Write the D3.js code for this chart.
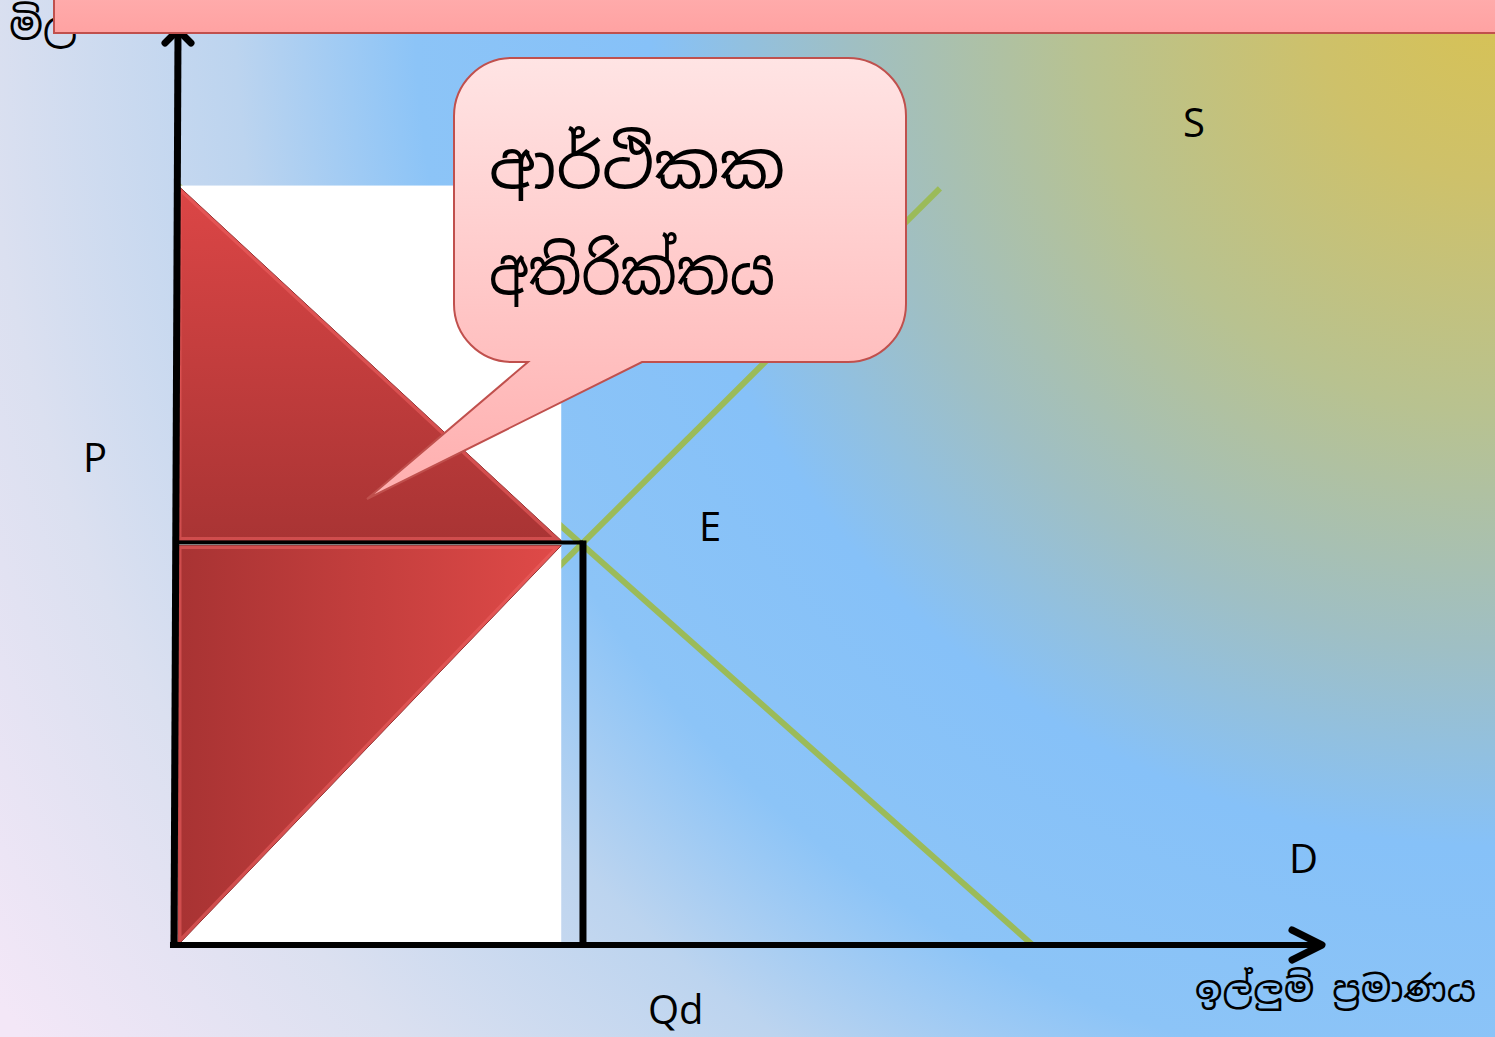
<!DOCTYPE html>
<html lang="si">
<head>
    <meta charset="UTF-8">
    <title>ආර්ථිකක අතිරික්තය</title>
    <style>
        body { margin: 0; overflow: hidden; }
        svg { display: block; }
        .lbl { font-family: 'Open Sans', 'Liberation Sans', sans-serif; font-size: 40px; fill: #000; }
        .si { font-family: 'Noto Sans Sinhala', 'Iskoola Pota', 'Noto Serif Sinhala', 'Noto Sans', sans-serif; fill: #000; }
    </style>
</head>
<body>
    <svg id="chart" width="1495" height="1037"></svg>

    <script src="https://cdnjs.cloudflare.com/ajax/libs/d3/7.8.5/d3.min.js"></script>
    <script>
        // ---- data (quantity / price units) ----
        var demandLine = [[0, 83], [74.7, 0]];      // D
        var supplyLine = [[0, 0], [66.6, 82.7]];    // S
        var equilibrium = { q: 35.4, p: 44 };       // E
        var shadedQ = 33.5;                          // right edge of the white panel / triangles
        var panelTop = 83;
        var axisMax = { q: 100, p: 100 };

        var axisTitles = { y: 'මිල', x: 'ඉල්ලුම් ප්‍රමාණය' };
        var calloutLines = ['ආර්ථිකක', 'අතිරික්තය'];
        var calloutWidths = [296, 286];

        var svg = d3.select('#chart'),
            width = +svg.attr('width'),
            height = +svg.attr('height');

        var x = d3.scaleLinear().domain([0, 100]).range([178, 1322]);
        var y = d3.scaleLinear().domain([0, 100]).range([945, 30]);

        var defs = svg.append('defs');

        // background: gold in the top-right corner, blue ring, lavender bottom-left
        var bg = defs.append('radialGradient')
            .attr('id', 'bg')
            .attr('gradientUnits', 'userSpaceOnUse')
            .attr('cx', 1495).attr('cy', 0).attr('r', 1800);
        [[0, '#d7c254'], [0.1, '#cec16a'], [0.23, '#b8c290'], [0.36, '#9fbfc4'],
         [0.47, '#86c1f8'], [0.6, '#8cc4f7'], [0.7, '#bcd4ef'], [0.84, '#dbe0f0'],
         [1, '#f3e7f7']].forEach(function (s) {
            bg.append('stop').attr('offset', s[0]).attr('stop-color', s[1]);
        });

        var gUp = defs.append('linearGradient').attr('id', 'redUp')
            .attr('x1', 0).attr('y1', 0).attr('x2', 0).attr('y2', 1);
        gUp.append('stop').attr('offset', 0).attr('stop-color', '#dc4646');
        gUp.append('stop').attr('offset', 1).attr('stop-color', '#a93434');

        var gLow = defs.append('linearGradient').attr('id', 'redLow')
            .attr('x1', 0).attr('y1', 0).attr('x2', 1).attr('y2', 0);
        gLow.append('stop').attr('offset', 0).attr('stop-color', '#a83333');
        gLow.append('stop').attr('offset', 1).attr('stop-color', '#e04a48');

        var gCall = defs.append('linearGradient').attr('id', 'callout')
            .attr('x1', 0).attr('y1', 0).attr('x2', 0).attr('y2', 1);
        gCall.append('stop').attr('offset', 0).attr('stop-color', '#ffe4e4');
        gCall.append('stop').attr('offset', 1).attr('stop-color', '#ffaeae');

        var gBan = defs.append('linearGradient').attr('id', 'banner')
            .attr('x1', 0).attr('y1', 0).attr('x2', 0).attr('y2', 1);
        gBan.append('stop').attr('offset', 0).attr('stop-color', '#ffadad');
        gBan.append('stop').attr('offset', 1).attr('stop-color', '#ffa2a2');

        svg.append('rect')
            .attr('width', width).attr('height', height)
            .attr('fill', 'url(#bg)');

        var line = d3.line()
            .x(function (d) { return x(d[0]); })
            .y(function (d) { return y(d[1]); });

        // supply & demand (the white panel covers their left part)
        svg.selectAll('.curve')
            .data([supplyLine, demandLine])
            .enter()
            .append('path')
            .attr('class', 'curve')
            .attr('d', line)
            .attr('stroke', '#9bbb59')
            .attr('stroke-width', 6)
            .attr('fill', 'none');

        svg.append('rect')
            .attr('x', x(0)).attr('y', y(panelTop))
            .attr('width', x(shadedQ) - x(0))
            .attr('height', y(0) - y(panelTop))
            .attr('fill', '#fff');

        // triangles
        var tri = [
            { id: 'up', fill: 'url(#redUp)', pts: [[0, panelTop], [0, equilibrium.p + 0.2], [shadedQ, equilibrium.p + 0.2]] },
            { id: 'low', fill: 'url(#redLow)', pts: [[0, equilibrium.p - 0.35], [shadedQ, equilibrium.p - 0.35], [0, 0]] }
        ];
        tri.forEach(function (t) {
            var d = line(t.pts) + 'Z';
            defs.append('clipPath').attr('id', 'clip-' + t.id).append('path').attr('d', d);
            svg.append('path').attr('d', d).attr('fill', t.fill)
                .attr('stroke', '#7a2424').attr('stroke-width', 1);
            svg.append('path').attr('d', d).attr('fill', 'none')
                .attr('clip-path', 'url(#clip-' + t.id + ')')
                .attr('stroke', '#ef6262').attr('stroke-opacity', 0.55)
                .attr('stroke-width', 7);
        });

        // price and quantity guide lines
        svg.append('path')
            .attr('d', line([[0, equilibrium.p], [equilibrium.q, equilibrium.p]]))
            .attr('stroke', '#000').attr('stroke-width', 4)
            .attr('fill', 'none');
        svg.append('path')
            .attr('d', line([[equilibrium.q, equilibrium.p + 0.2], [equilibrium.q, 0]]))
            .attr('stroke', '#000').attr('stroke-width', 7)
            .attr('fill', 'none');

        // axes
        svg.append('path')
            .attr('d', line([[-0.7, 0], [axisMax.q, 0]]))
            .attr('stroke', '#000').attr('stroke-width', 6).attr('fill', 'none');
        svg.append('path')
            .attr('d', line([[-0.35, 0], [0, axisMax.p]]))
            .attr('stroke', '#000').attr('stroke-width', 7).attr('fill', 'none');
        // arrow heads
        svg.append('path')
            .attr('d', 'M' + (x(axisMax.q) - 30) + ',' + (y(0) - 15) + 'L' + x(axisMax.q) + ',' + y(0) +
                'L' + (x(axisMax.q) - 30) + ',' + (y(0) + 15))
            .attr('stroke', '#000').attr('stroke-width', 7).attr('fill', 'none')
            .attr('stroke-linecap', 'round').attr('stroke-linejoin', 'round');
        svg.append('path')
            .attr('d', 'M' + (x(0) - 13) + ',' + (y(axisMax.p) + 13) + 'L' + x(0) + ',' + y(axisMax.p) +
                'L' + (x(0) + 13) + ',' + (y(axisMax.p) + 13))
            .attr('stroke', '#000').attr('stroke-width', 7).attr('fill', 'none')
            .attr('stroke-linecap', 'round').attr('stroke-linejoin', 'round');

        // labels
        var labels = [
            { t: 'S', x: 1183, y: 137 },
            { t: 'E', x: 699, y: 541 },
            { t: 'D', x: 1289, y: 873 },
            { t: 'P', x: 83, y: 472 },
            { t: 'Qd', x: 648, y: 1024 }
        ];
        svg.selectAll('.lbl')
            .data(labels)
            .enter()
            .append('text')
            .attr('class', 'lbl')
            .attr('x', function (d) { return d.x; })
            .attr('y', function (d) { return d.y; })
            .text(function (d) { return d.t; });

        svg.append('text')
            .attr('class', 'si')
            .attr('x', 1195).attr('y', 1002)
            .style('font-size', '36px')
            .text(axisTitles.x);

        svg.append('text')
            .attr('class', 'si')
            .attr('x', 9).attr('y', 40)
            .style('font-size', '40px')
            .text(axisTitles.y);

        // callout
        var cx0 = 454, cx1 = 906, cy0 = 58, cy1 = 362, r = 58;
        var tail = { a: 528, b: 642, tipX: 367, tipY: 499 };
        var cp = d3.path();
        cp.moveTo(cx0 + r, cy0);
        cp.lineTo(cx1 - r, cy0);
        cp.arcTo(cx1, cy0, cx1, cy0 + r, r);
        cp.lineTo(cx1, cy1 - r);
        cp.arcTo(cx1, cy1, cx1 - r, cy1, r);
        cp.lineTo(tail.b, cy1);
        cp.lineTo(tail.tipX, tail.tipY);
        cp.lineTo(tail.a, cy1);
        cp.lineTo(cx0 + r, cy1);
        cp.arcTo(cx0, cy1, cx0, cy1 - r, r);
        cp.lineTo(cx0, cy0 + r);
        cp.arcTo(cx0, cy0, cx0 + r, cy0, r);
        cp.closePath();
        svg.append('path')
            .attr('d', cp.toString())
            .attr('fill', 'url(#callout)')
            .attr('stroke', '#c0504d').attr('stroke-width', 2);

        svg.selectAll('.cl')
            .data(calloutLines)
            .enter()
            .append('text')
            .attr('class', 'si cl')
            .attr('x', 489)
            .attr('y', function (d, i) { return 188 + i * 106; })
            .attr('textLength', function (d, i) { return calloutWidths[i]; })
            .attr('lengthAdjust', 'spacingAndGlyphs')
            .style('font-size', '64px')
            .text(function (d) { return d; });

        // top banner
        svg.append('rect')
            .attr('x', 54).attr('y', -10)
            .attr('width', 1500).attr('height', 43)
            .attr('fill', 'url(#banner)')
            .attr('stroke', '#c0504d').attr('stroke-width', 2);
    </script>
</body>
</html>
